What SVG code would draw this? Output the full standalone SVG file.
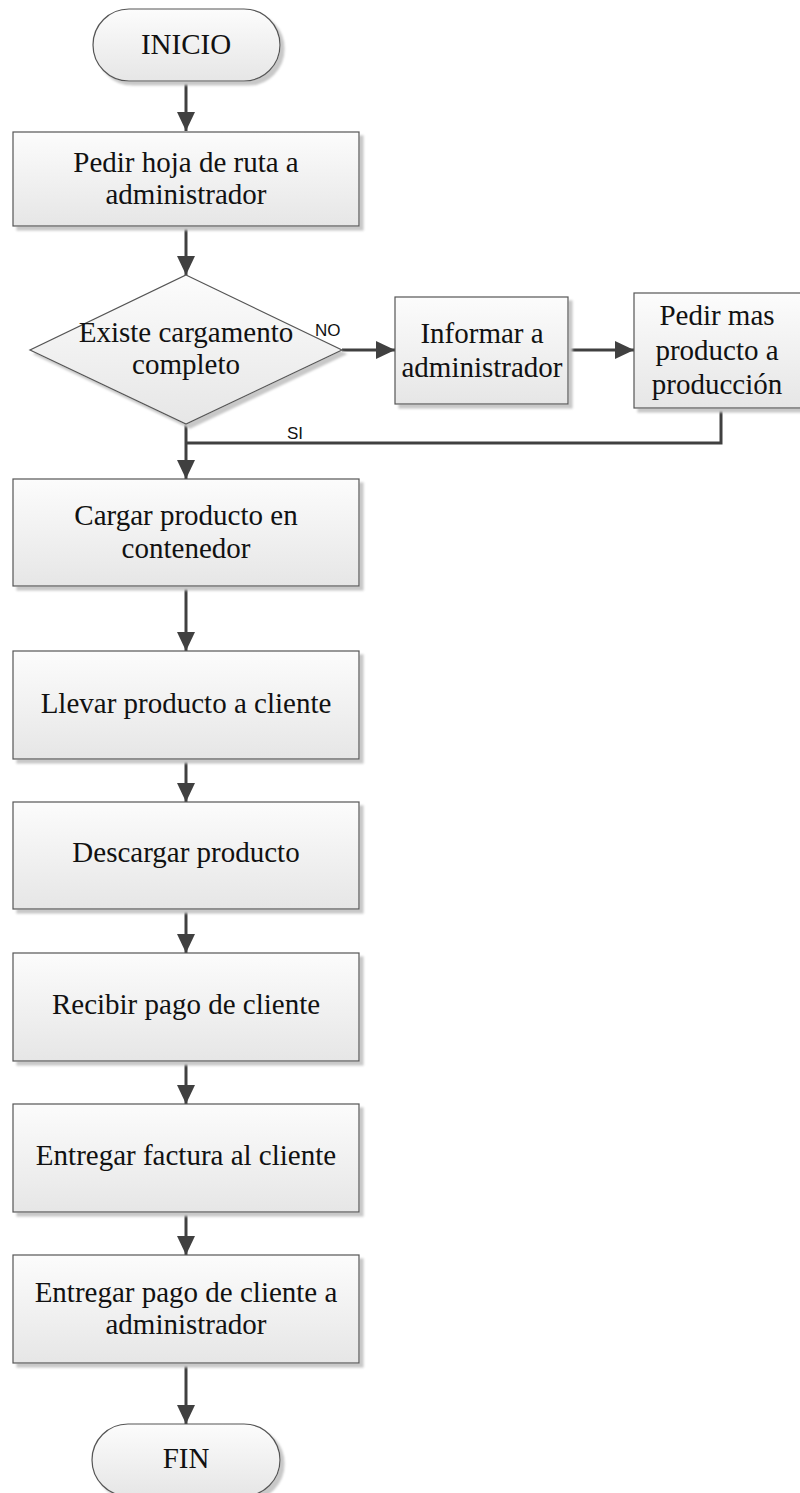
<svg xmlns="http://www.w3.org/2000/svg" width="800" height="1493" viewBox="0 0 800 1493">
  <style>
    .shape { fill: url(#boxFill); stroke: #555555; stroke-width: 1.2; filter: url(#shadow); }
    .label { font-family: "Liberation Serif", "Times New Roman", serif; font-size: 29px; fill: #111111; text-anchor: middle; }
    .tag { font-family: "Liberation Sans", Arial, sans-serif; font-size: 17px; fill: #111111; }
    .wire { fill: none; stroke: #404040; stroke-width: 3; }
    .arrow { marker-end: url(#head); }
  </style>
  <defs>
    <linearGradient id="boxFill" x1="0" y1="0" x2="0" y2="1">
      <stop offset="0" stop-color="#fcfcfc"/>
      <stop offset="1" stop-color="#e6e6e6"/>
    </linearGradient>
    <filter id="shadow" x="-10%" y="-10%" width="125%" height="130%">
      <feOffset in="SourceAlpha" dx="4" dy="4" result="off"/>
      <feGaussianBlur in="off" stdDeviation="1" result="blur"/>
      <feFlood flood-color="#c8c8c8"/>
      <feComposite in2="blur" operator="in" result="shade"/>
      <feMerge>
        <feMergeNode in="shade"/>
        <feMergeNode in="SourceGraphic"/>
      </feMerge>
    </filter>
    <marker id="head" markerUnits="userSpaceOnUse" markerWidth="20" markerHeight="18" refX="19" refY="9" orient="auto">
      <path d="M0,0 L19,9 L0,18 z" fill="#404040"/>
    </marker>
  </defs>

  <!-- connectors -->
  <g id="connectors">
    <line class="wire arrow" x1="186" y1="81" x2="186" y2="131"/>
    <line class="wire arrow" x1="186" y1="226" x2="186" y2="275"/>
    <line class="wire arrow" x1="342" y1="350" x2="395" y2="350"/>
    <line class="wire arrow" x1="568" y1="350" x2="634" y2="350"/>
    <polyline class="wire" points="721,408 721,443 186,443"/>
    <line class="wire arrow" x1="186" y1="424" x2="186" y2="479"/>
    <line class="wire arrow" x1="186" y1="586" x2="186" y2="651"/>
    <line class="wire arrow" x1="186" y1="759" x2="186" y2="802"/>
    <line class="wire arrow" x1="186" y1="909" x2="186" y2="953"/>
    <line class="wire arrow" x1="186" y1="1061" x2="186" y2="1104"/>
    <line class="wire arrow" x1="186" y1="1212" x2="186" y2="1255"/>
    <line class="wire arrow" x1="186" y1="1363" x2="186" y2="1424"/>
    <text class="tag" x="315" y="336">NO</text>
    <text class="tag" x="287" y="439">SI</text>
  </g>

  <g id="inicio">
    <rect class="shape" x="93" y="9" width="187" height="72" rx="36" ry="36"/>
    <text class="label" x="186" y="54">INICIO</text>
  </g>

  <g id="pedir-hoja">
    <rect class="shape" x="13" y="132" width="346" height="94"/>
    <text class="label" x="186" y="172">Pedir hoja de ruta a</text>
    <text class="label" x="186" y="204">administrador</text>
  </g>

  <g id="existe-cargamento">
    <polygon class="shape" points="186,275 342,350 186,424 30,350"/>
    <text class="label" x="186" y="342">Existe cargamento</text>
    <text class="label" x="186" y="374">completo</text>
  </g>

  <g id="informar">
    <rect class="shape" x="395" y="297" width="173" height="107"/>
    <text class="label" x="482" y="343">Informar a</text>
    <text class="label" x="482" y="377">administrador</text>
  </g>

  <g id="pedir-mas">
    <rect class="shape" x="634" y="293" width="170" height="115"/>
    <text class="label" x="717" y="325">Pedir mas</text>
    <text class="label" x="717" y="360">producto a</text>
    <text class="label" x="717" y="394">producción</text>
  </g>

  <g id="cargar">
    <rect class="shape" x="13" y="479" width="346" height="107"/>
    <text class="label" x="186" y="525">Cargar producto en</text>
    <text class="label" x="186" y="558">contenedor</text>
  </g>

  <g id="llevar">
    <rect class="shape" x="13" y="651" width="346" height="108"/>
    <text class="label" x="186" y="713">Llevar producto a cliente</text>
  </g>

  <g id="descargar">
    <rect class="shape" x="13" y="802" width="346" height="107"/>
    <text class="label" x="186" y="862">Descargar producto</text>
  </g>

  <g id="recibir">
    <rect class="shape" x="13" y="953" width="346" height="108"/>
    <text class="label" x="186" y="1014">Recibir pago de cliente</text>
  </g>

  <g id="entregar-factura">
    <rect class="shape" x="13" y="1104" width="346" height="108"/>
    <text class="label" x="186" y="1165">Entregar factura al cliente</text>
  </g>

  <g id="entregar-pago">
    <rect class="shape" x="13" y="1255" width="346" height="108"/>
    <text class="label" x="186" y="1302">Entregar pago de cliente a</text>
    <text class="label" x="186" y="1334">administrador</text>
  </g>

  <g id="fin">
    <rect class="shape" x="92" y="1424" width="188" height="72" rx="36" ry="36"/>
    <text class="label" x="186" y="1468">FIN</text>
  </g>
</svg>
